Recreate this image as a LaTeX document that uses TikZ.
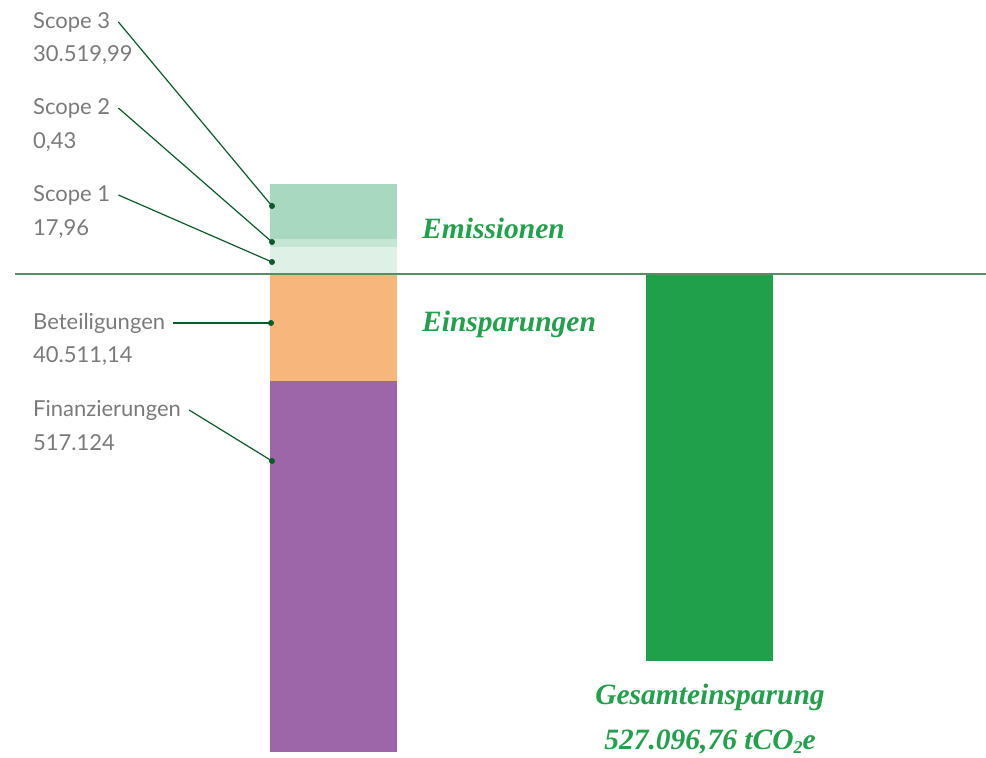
\documentclass[tikz,border=0pt]{standalone}
\usepackage{fontspec}
\setmainfont{Liberation Serif}
\setsansfont{Lato}
\usetikzlibrary{positioning}

\definecolor{labelgray}{HTML}{7A7A7A}
\definecolor{headgreen}{HTML}{22A04B}
\definecolor{leadgreen}{HTML}{0B5A2A}
\definecolor{axisgreen}{HTML}{5A8C68}
\definecolor{scopethree}{HTML}{A8D9C0}
\definecolor{scopetwo}{HTML}{C4E6D3}
\definecolor{scopeone}{HTML}{DFF0E6}
\definecolor{betorange}{HTML}{F7B77C}
\definecolor{finpurple}{HTML}{9C66A8}
\definecolor{totalgreen}{HTML}{21A04B}

\begin{document}
\begin{tikzpicture}[x=1pt, y=-1pt,
  lbl/.style={anchor=west, inner xsep=8pt, inner ysep=2pt, text=labelgray,
    font=\sffamily\fontsize{22}{25}\selectfont},
  head/.style={text=headgreen, inner sep=0pt,
    font=\bfseries\itshape\fontsize{29.5}{32}\selectfont},
  leader/.style={draw=leadgreen, line width=1.2pt},
  dot/.style={circle, fill=leadgreen, inner sep=0pt, minimum size=6pt}]
  \useasboundingbox (0,0) rectangle (986,758);
  % Bars
  \fill[scopethree] (270,184) rectangle (397,239);
  \fill[scopetwo] (270,239) rectangle (397,247);
  \fill[scopeone] (270,247) rectangle (397,274);
  \fill[betorange] (270,274) rectangle (397,381);
  \fill[finpurple] (270,381) rectangle (397,752);
  \fill[totalgreen] (646,274) rectangle (773,661);
  % Axis
  \draw[draw=axisgreen, line width=1.6pt] (15,274) -- (986,274);
  % Labels
  \node (s3) [lbl] at (25,22) {Scope 3};
  \node (s3v) [lbl] at (25,55) {30.519,99};
  \node (s2) [lbl] at (25,108) {Scope 2};
  \node (s2v) [lbl] at (25,142) {0,43};
  \node (s1) [lbl] at (25,195) {Scope 1};
  \node (s1v) [lbl] at (25,229) {17,96};
  \node (bet) [lbl] at (25,323) {Beteiligungen};
  \node (betv) [lbl] at (25,356) {40.511,14};
  \node (fin) [lbl] at (25,410) {Finanzierungen};
  \node (finv) [lbl] at (25,443) {517.124};
  % Dots
  \node (d3) [dot] at (272,206) {};
  \node (d2) [dot] at (272,242) {};
  \node (d1) [dot] at (272,262) {};
  \node (dbet) [dot] at (271,323) {};
  \node (dfin) [dot] at (272,461) {};
  % Leaders
  \draw[leader] (s3.east) -- (d3.center);
  \draw[leader] (s2.east) -- (d2.center);
  \draw[leader] (s1.east) -- (d1.center);
  \draw[leader] (bet.east) -- (dbet.center);
  \draw[leader] (fin.east) -- (dfin.center);
  % Headings
  \node (emis) [head, anchor=west] at (422,228) {Emissionen};
  \node (eins) [head, anchor=west] at (422,324) {Einsparungen};
  \node (total) [head] at (710,697) {Gesamteinsparung};
  \node (totalv) [head] at (710,742) {527.096,76 tCO\raisebox{-0.3ex}{\fontsize{18}{18}\selectfont 2}e};
\end{tikzpicture}
\end{document}
